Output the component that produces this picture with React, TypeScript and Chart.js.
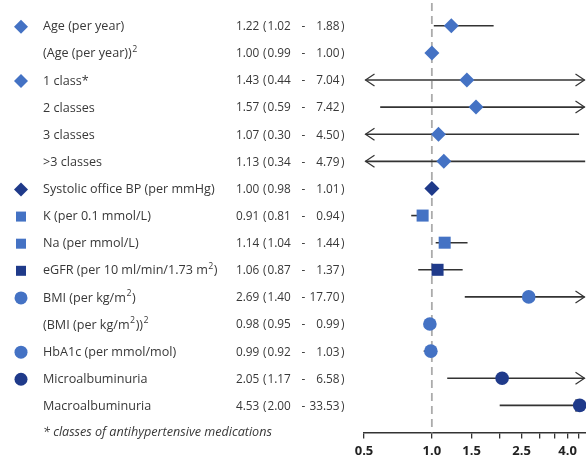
import React, { useEffect, useRef } from "react";
import { Chart, registerables } from "chart.js";

Chart.register(...registerables);

// ---- data ----
const rowLabels = [
  "Age (per year)",
  "(Age (per year))²",
  "1 class*",
  "2 classes",
  "3 classes",
  ">3 classes",
  "Systolic office BP (per mmHg)",
  "K (per 0.1 mmol/L)",
  "Na (per mmol/L)",
  "eGFR (per 10 ml/min/1.73 m²)",
  "BMI (per kg/m²)",
  "(BMI (per kg/m²))²",
  "HbA1c (per mmol/mol)",
  "Microalbuminuria",
  "Macroalbuminuria",
];
const oddsRatios = [1.22, 1.0, 1.43, 1.57, 1.07, 1.13, 1.0, 0.91, 1.14, 1.06, 2.69, 0.98, 0.99, 2.05, 4.53];
const lowerCI = [1.02, 0.99, 0.44, 0.59, 0.3, 0.34, 0.98, 0.81, 1.04, 0.87, 1.4, 0.95, 0.92, 1.17, 2.0];
const upperCI = [1.88, 1.0, 7.04, 7.42, 4.5, 4.79, 1.01, 0.94, 1.44, 1.37, 17.7, 0.99, 1.03, 6.58, 33.53];
const markerShapes = [
  "rectRot", "rectRot", "rectRot", "rectRot", "rectRot", "rectRot", "rectRot",
  "rect", "rect", "rect",
  "circle", "circle", "circle", "circle", "circle",
];
const markerDark = [false, false, false, false, false, false, true, false, false, true, false, false, false, true, true];
const showLegendIcon = [true, false, true, false, false, false, true, true, true, true, true, false, true, true, false];
const tickValues = [0.5, 1, 1.5, 2, 2.5, 3, 3.5, 4, 4.5];
const tickLabels = ["0.5", "1.0", "1.5", "", "2.5", "", "", "4.0", ""];
const footnote = "* classes of antihypertensive medications";
const axisMin = 0.5;
const axisMax = 4.83;

const MID = "#4472C4";
const DARK = "#1F3A8A";
const TEXT = "#383838";
const FONT = '"Open Sans", "Noto Sans", sans-serif';
const FS = 12.6;
const NUM_FS = 11.8;

const radiusFor = (s: string) => (s === "rectRot" ? 7.5 : s === "rect" ? 8.5 : 6.8);

function drawRich(ctx: CanvasRenderingContext2D, text: string, x: number, y: number, size: number) {
  const parts = text.split("²");
  let cx = x;
  parts.forEach((p, i) => {
    ctx.font = `${size}px ${FONT}`;
    ctx.fillText(p, cx, y);
    cx += ctx.measureText(p).width;
    if (i < parts.length - 1) {
      ctx.font = `${size * 0.7}px ${FONT}`;
      ctx.fillText("2", cx + 0.5, y - size * 0.38);
      cx += ctx.measureText("2").width + 1;
    }
  });
}

function drawIcon(ctx: CanvasRenderingContext2D, shape: string, x: number, y: number, color: string) {
  ctx.save();
  ctx.fillStyle = color;
  ctx.beginPath();
  if (shape === "rectRot") {
    const r = 7;
    ctx.moveTo(x - r, y);
    ctx.lineTo(x, y - r);
    ctx.lineTo(x + r, y);
    ctx.lineTo(x, y + r);
    ctx.closePath();
  } else if (shape === "rect") {
    ctx.rect(x - 5, y - 5, 10, 10);
  } else {
    ctx.arc(x, y, 6.5, 0, Math.PI * 2);
  }
  ctx.fill();
  ctx.restore();
}

const forestPlugin = {
  id: "forest",
  beforeDatasetsDraw(chart: any) {
    const ctx: CanvasRenderingContext2D = chart.ctx;
    const xs = chart.scales.x;
    const ys = chart.scales.y;
    const area = chart.chartArea;
    // reference dashed line at OR = 1
    const x1 = xs.getPixelForValue(1);
    ctx.save();
    ctx.strokeStyle = "#ababab";
    ctx.lineWidth = 1.8;
    ctx.setLineDash([8, 5]);
    ctx.beginPath();
    ctx.moveTo(x1, area.top + 3);
    ctx.lineTo(x1, area.bottom);
    ctx.stroke();
    ctx.restore();

    // confidence intervals
    ctx.save();
    ctx.strokeStyle = "#333";
    ctx.lineWidth = 1.6;
    oddsRatios.forEach((_, i) => {
      const y = ys.getPixelForValue(i);
      const lo = Math.max(lowerCI[i], axisMin);
      const hi = Math.min(upperCI[i], axisMax);
      let xl = xs.getPixelForValue(lo);
      let xr = xs.getPixelForValue(hi);
      const leftArrow = lowerCI[i] < axisMin;
      const rightArrow = upperCI[i] > axisMax;
      if (leftArrow) xl += 1.5;
      if (rightArrow) xr -= 1.5;
      ctx.beginPath();
      ctx.moveTo(xl, y);
      ctx.lineTo(xr, y);
      ctx.stroke();
      ctx.lineWidth = 1.2;
      if (leftArrow) {
        ctx.beginPath();
        ctx.moveTo(xl + 9, y - 6);
        ctx.lineTo(xl, y);
        ctx.lineTo(xl + 9, y + 6);
        ctx.stroke();
      }
      if (rightArrow) {
        ctx.beginPath();
        ctx.moveTo(xr - 9, y - 6);
        ctx.lineTo(xr, y);
        ctx.lineTo(xr - 9, y + 6);
        ctx.stroke();
      }
      ctx.lineWidth = 1.6;
    });
    ctx.restore();
  },
  afterDraw(chart: any) {
    const ctx: CanvasRenderingContext2D = chart.ctx;
    const ys = chart.scales.y;
    ctx.save();
    ctx.textBaseline = "middle";
    ctx.fillStyle = TEXT;
    rowLabels.forEach((label, i) => {
      const y = ys.getPixelForValue(i) + 1;
      if (showLegendIcon[i]) drawIcon(ctx, markerShapes[i], 21, y, markerDark[i] ? DARK : MID);
      ctx.fillStyle = TEXT;
      ctx.textAlign = "left";
      drawRich(ctx, label, 43, y, FS);
      ctx.font = `${NUM_FS}px ${FONT}`;
      ctx.textAlign = "left";
      ctx.fillText(oddsRatios[i].toFixed(2), 236, y);
      ctx.fillText("(", 263, y);
      ctx.fillText(lowerCI[i].toFixed(2), 267.5, y);
      ctx.textAlign = "center";
      ctx.fillText("-", 303.5, y);
      ctx.textAlign = "right";
      ctx.fillText(upperCI[i].toFixed(2), 339.5, y);
      ctx.textAlign = "left";
      ctx.fillText(")", 341, y);
    });
    ctx.font = `italic ${FS}px ${FONT}`;
    ctx.textAlign = "left";
    ctx.fillText(footnote, 43, ys.getPixelForValue(rowLabels.length));
    ctx.restore();
  },
};

export default function App() {
  const ref = useRef<HTMLCanvasElement>(null);
  useEffect(() => {
    if (!ref.current) return;
    const chart = new Chart(ref.current, {
      type: "scatter",
      data: {
        datasets: [
          {
            data: oddsRatios.map((v, i) => ({ x: v, y: i })),
            pointStyle: markerShapes as any,
            pointRadius: markerShapes.map(radiusFor),
            pointBackgroundColor: markerDark.map((d) => (d ? DARK : MID)),
            pointBorderWidth: 0,
            pointBorderColor: "rgba(0,0,0,0)",
            clip: false as any,
          },
        ],
      },
      options: {
        responsive: false,
        animation: false,
        devicePixelRatio: 1,
        events: [],
        layout: { autoPadding: false, padding: { left: 364, right: 0, top: 0, bottom: 0 } },
        plugins: { legend: { display: false }, tooltip: { enabled: false } },
        scales: {
          x: {
            type: "logarithmic",
            min: axisMin,
            max: axisMax,
            afterBuildTicks: (s: any) => {
              s.ticks = tickValues.map((v) => ({ value: v }));
            },
            afterFit: (s: any) => {
              s.height = 24.5;
              s.paddingLeft = 0;
              s.paddingRight = 0;
            },
            grid: {
              drawOnChartArea: false,
              drawTicks: true,
              tickLength: 6,
              color: "#333",
              lineWidth: 1.3,
            },
            border: { display: true, color: "#333", width: 1.5 },
            ticks: {
              autoSkip: false,
              maxRotation: 0,
              padding: 5,
              color: "#222",
              font: { family: FONT, size: 13, weight: "bold" },
              callback: (_v: any, idx: number) => tickLabels[idx],
            },
          },
          y: {
            type: "linear",
            display: false,
            reverse: true,
            min: -0.95,
            max: 15,
          },
        },
      },
      plugins: [forestPlugin],
    });
    return () => chart.destroy();
  }, []);
  return (
    <div style={{ position: "fixed", left: 0, top: 0, width: 586, height: 457, background: "#fff" }}>
      <canvas ref={ref} width={586} height={457} style={{ width: 586, height: 457, display: "block" }} />
    </div>
  );
}
